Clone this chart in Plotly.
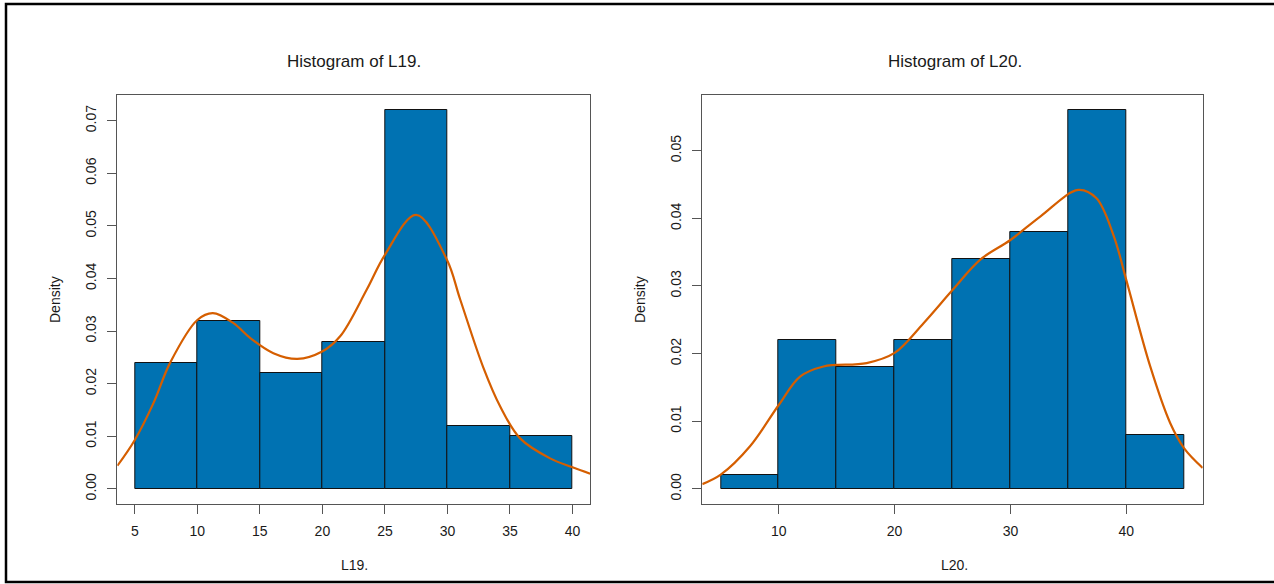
import plotly.graph_objects as go

# ---- data ----
l19_edges = [5, 10, 15, 20, 25, 30, 35, 40]
l19_density = [0.024, 0.032, 0.022, 0.028, 0.072, 0.012, 0.010]
l19_kde_x = [3.61, 5.0, 6.49, 7.83, 10.0, 11.24, 12.89, 14.22, 16.08, 18.0, 19.98, 21.42,
             23.55, 25.0, 27.5, 29.95, 31.02, 32.88, 34.21, 35.81, 38.21, 40.0, 41.41]
l19_kde_y = [0.0044, 0.0093, 0.0163, 0.0240, 0.0321, 0.0334, 0.0315, 0.0287, 0.0258, 0.0247, 0.0261, 0.0290,
             0.0379, 0.0445, 0.0521, 0.0436, 0.0360, 0.0230, 0.0157, 0.0096, 0.0058, 0.0041, 0.0029]

l20_edges = [5, 10, 15, 20, 25, 30, 35, 40, 45]
l20_density = [0.002, 0.022, 0.018, 0.022, 0.034, 0.038, 0.056, 0.008]
l20_kde_x = [3.40, 4.99, 7.52, 10.0, 11.84, 13.86, 17.59, 20.0, 22.5, 25.0, 27.4, 30.0,
             32.6, 35.86, 37.41, 38.9, 40.0, 42.07, 43.8, 45.0, 46.6]
l20_kde_y = [0.0007, 0.0021, 0.0063, 0.0124, 0.0166, 0.0181, 0.0186, 0.0201, 0.0245, 0.0294, 0.0339, 0.0368,
             0.0403, 0.0442, 0.0430, 0.0375, 0.0309, 0.0181, 0.0097, 0.0060, 0.0031]

l19_ticks = [5, 10, 15, 20, 25, 30, 35, 40]
l20_ticks = [10, 20, 30, 40]
l19_yticks = [0.00, 0.01, 0.02, 0.03, 0.04, 0.05, 0.06, 0.07]
l20_yticks = [0.00, 0.01, 0.02, 0.03, 0.04, 0.05]

BAR = "#0072B2"
CURVE = "#D55E00"
FONT = "Liberation Sans, Arial, sans-serif"
TXT = "#1a1a1a"
W, H = 1274, 584


def centers(edges):
    return [(a + b) / 2 for a, b in zip(edges[:-1], edges[1:])]


def widths(edges):
    return [b - a for a, b in zip(edges[:-1], edges[1:])]


fig = go.Figure()

fig.add_trace(go.Bar(x=centers(l19_edges), y=l19_density, width=widths(l19_edges),
                     marker=dict(color=BAR, line=dict(color="#111111", width=1)),
                     xaxis="x", yaxis="y", showlegend=False))
fig.add_trace(go.Scatter(x=l19_kde_x, y=l19_kde_y, mode="lines",
                         line=dict(color=CURVE, width=2.2, shape="spline", smoothing=1.0),
                         xaxis="x", yaxis="y", showlegend=False))
fig.add_trace(go.Bar(x=centers(l20_edges), y=l20_density, width=widths(l20_edges),
                     marker=dict(color=BAR, line=dict(color="#111111", width=1)),
                     xaxis="x2", yaxis="y2", showlegend=False))
fig.add_trace(go.Scatter(x=l20_kde_x, y=l20_kde_y, mode="lines",
                         line=dict(color=CURVE, width=2.2, shape="spline", smoothing=1.0),
                         xaxis="x2", yaxis="y2", showlegend=False))

axis_common = dict(showline=True, mirror=True, linecolor="#555555", linewidth=1,
                   ticks="outside", ticklen=9, tickcolor="#555555", tickwidth=1,
                   showgrid=False, zeroline=False,
                   tickfont=dict(family=FONT, size=14, color=TXT))

x1d = [117.3 / W, 590 / W]
x2d = [702.3 / W, 1202.7 / W]
yd = [(H - 504) / H, (H - 95) / H]

fig.update_layout(
    width=W, height=H,
    margin=dict(l=0, r=0, t=0, b=0),
    paper_bgcolor="white", plot_bgcolor="white",
    bargap=0,
    xaxis=dict(domain=x1d, range=[3.6, 41.4], tickvals=l19_ticks, anchor="y",
               ticklabelstandoff=5, **axis_common),
    yaxis=dict(domain=yd, range=[-0.00288, 0.07488], tickvals=l19_yticks,
               tickformat=".2f", tickangle=-90, anchor="x", ticklabelstandoff=6, **axis_common),
    xaxis2=dict(domain=x2d, range=[3.4, 46.6], tickvals=l20_ticks, anchor="y2",
                ticklabelstandoff=5, **axis_common),
    yaxis2=dict(domain=yd, range=[-0.00224, 0.05824], tickvals=l20_yticks,
                tickformat=".2f", tickangle=-90, anchor="x2", ticklabelstandoff=6, **axis_common),
)


def ann(text, x, y, size, angle=0):
    fig.add_annotation(text=text, x=x / W, y=(H - y) / H, xref="paper", yref="paper",
                       showarrow=False, textangle=angle, xanchor="center", yanchor="middle",
                       font=dict(family=FONT, size=size, color=TXT))


ann("Histogram of L19.", 354, 61, 17)
ann("Histogram of L20.", 955, 61, 17)
ann("L19.", 354, 565, 14)
ann("L20.", 954, 565, 14)
ann("Density", 55, 300, 14, -90)
ann("Density", 640, 300, 14, -90)

# outer frame
fig.add_shape(type="rect", xref="paper", yref="paper",
              x0=6 / W, x1=1.02, y0=(H - 582) / H, y1=(H - 4) / H,
              line=dict(color="black", width=2.5), fillcolor="rgba(0,0,0,0)")

fig.write_html("out.html", config={"displayModeBar": False},
               post_script="document.body.style.margin='0';document.body.style.padding='0';")
